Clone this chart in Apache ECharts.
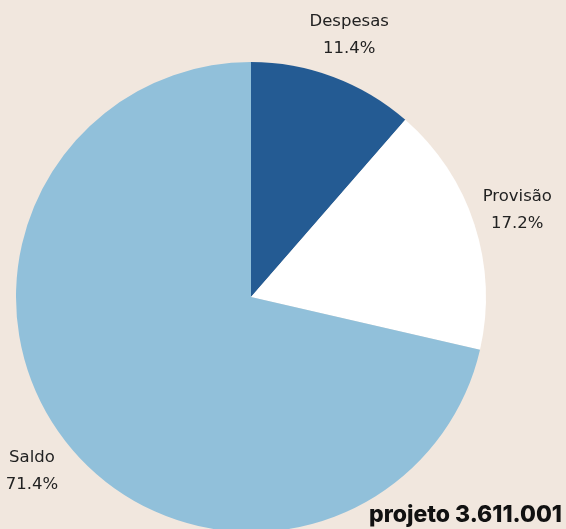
<!DOCTYPE html>
<html>
<head>
<meta charset="utf-8">
<script src="https://cdn.jsdelivr.net/npm/echarts@6/dist/echarts.min.js"></script>
<style>
  html, body { margin: 0; padding: 0; background: #f1e7de; }
  #chart { width: 566px; height: 529px; }
</style>
</head>
<body>
<div id="chart"></div>
<script>
// dados
const categorias = ['Despesas', 'Provisão', 'Saldo']
const percentuais = [11.4, 17.2, 71.4]
const cores = ['#245b93', '#ffffff', '#91c0da']
const totalTexto = 'projeto 3.611.001'

const cx = 251, cy = 297, raio = 235
const distLabel = 280

// ângulo médio de cada fatia (a partir do topo, sentido horário)
const total = percentuais.reduce((a, b) => a + b, 0)
let acum = 0
const meio = percentuais.map(v => {
  const m = (acum + v / 2) / total * Math.PI * 2
  acum += v
  return m
})

const chart = echarts.init(document.getElementById('chart'))
chart.setOption({
  backgroundColor: '#f1e7de',
  animation: false,
  title: {
    text: totalTexto,
    right: 4,
    bottom: 2,
    padding: 0,
    textStyle: {
      fontFamily: 'Inter',
      fontWeight: 800,
      fontSize: 23,
      color: '#111'
    }
  },
  series: [{
    type: 'pie',
    center: [cx, cy],
    radius: raio,
    startAngle: 90,
    clockwise: true,
    data: categorias.map((c, i) => ({
      name: c,
      value: percentuais[i],
      itemStyle: { color: cores[i] }
    })),
    label: {
      show: true,
      formatter: p => p.name + '\n' + p.value.toFixed(1) + '%',
      fontFamily: 'DejaVu Sans',
      fontSize: 16.5,
      lineHeight: 27,
      color: '#222',
      overflow: 'none',
      width: 130
    },
    labelLine: { show: false },
    labelLayout: p => {
      const a = meio[p.dataIndex]
      return {
        x: cx + distLabel * Math.sin(a),
        y: cy - distLabel * Math.cos(a),
        align: 'center',
        verticalAlign: 'middle'
      }
    }
  }]
})
</script>
</body>
</html>
